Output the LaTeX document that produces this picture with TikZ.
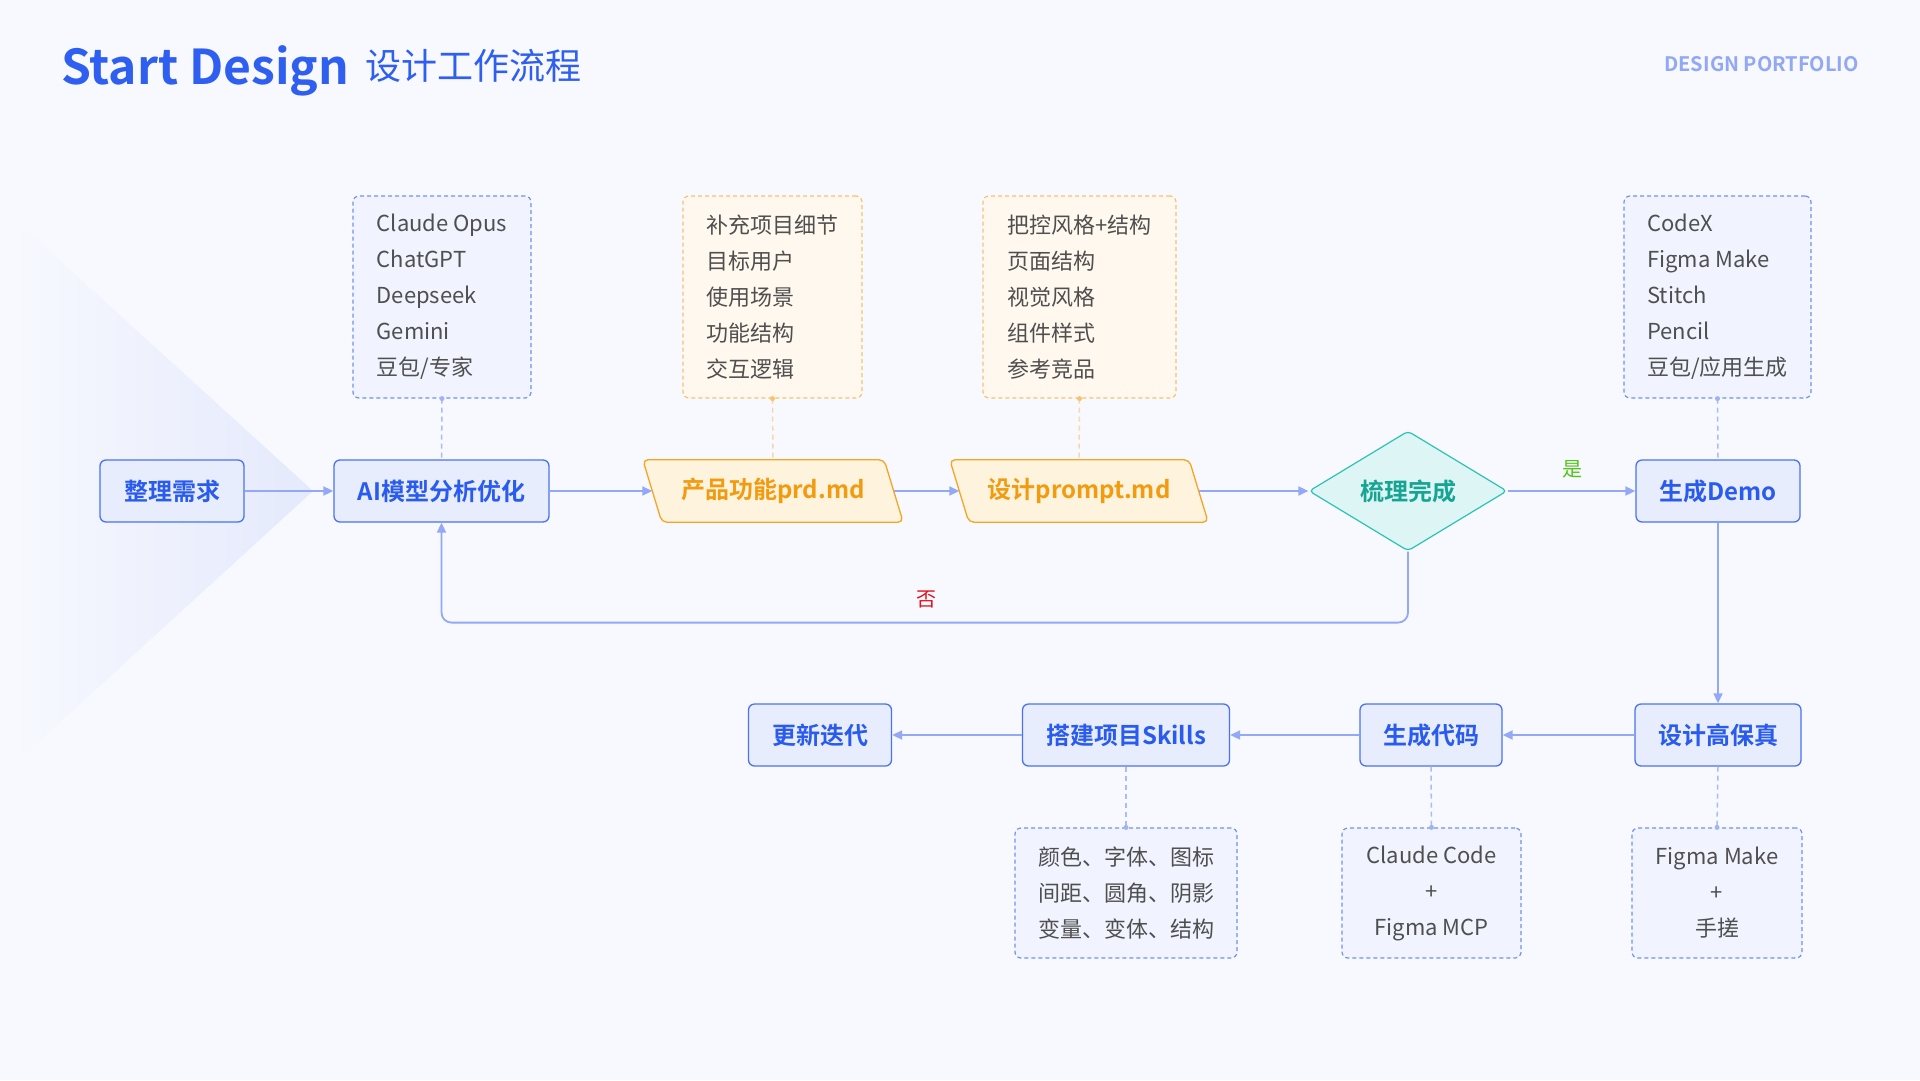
\documentclass[tikz,border=0pt]{standalone}
\usepackage{fontspec}
\setmainfont{Noto Sans CJK SC}[BoldFont={Noto Sans CJK SC Bold}]
\usetikzlibrary{arrows.meta,shapes.geometric,calc}

\definecolor{bgtop}{HTML}{F7F9FE}
\definecolor{tri}{HTML}{E4E9FC}
\definecolor{titleblue}{HTML}{2F5FF0}
\definecolor{portf}{HTML}{93A8F5}
\definecolor{nodefill}{HTML}{E7EDFD}
\definecolor{nodeline}{HTML}{4A72F2}
\definecolor{nodetext}{HTML}{2A5BEF}
\definecolor{arrowc}{HTML}{93A9F5}
\definecolor{pfill}{HTML}{FEF3DC}
\definecolor{pline}{HTML}{F5A524}
\definecolor{ptext}{HTML}{F29B0F}
\definecolor{dfill}{HTML}{DDF5F4}
\definecolor{dline}{HTML}{2CC3B5}
\definecolor{dtext}{HTML}{16A594}
\definecolor{notefill}{HTML}{F1F4FE}
\definecolor{noteline}{HTML}{7092F0}
\definecolor{onotefill}{HTML}{FFF8EE}
\definecolor{onoteline}{HTML}{F6C36F}
\definecolor{notetext}{HTML}{4F4F4F}
\definecolor{bdash}{HTML}{A9BCF7}
\definecolor{odash}{HTML}{F8D8A6}
\definecolor{yesc}{HTML}{52C41A}
\definecolor{noc}{HTML}{E0141E}

\pgfdeclarelayer{bglayer}
\pgfdeclarelayer{shapelayer}
\pgfsetlayers{bglayer,shapelayer,main}

\tikzset{
  proc/.style={draw=nodeline, line width=1.3pt, fill=nodefill, rounded corners=6pt,
    minimum height=62pt, inner sep=0pt, text=nodetext,
    font=\bfseries\fontsize{24pt}{28pt}\selectfont},
  ptxt/.style={minimum height=62pt, inner sep=0pt, text=ptext,
    font=\bfseries\fontsize{24pt}{28pt}\selectfont},
  pshape/.style={draw=pline, line width=1.3pt, fill=pfill, rounded corners=5pt},
  decide/.style={diamond, aspect=1.65, minimum width=198pt, minimum height=120pt,
    inner sep=0pt, draw=dline, line width=1.2pt, fill=dfill, rounded corners=4pt,
    text=dtext, font=\bfseries\fontsize{24pt}{28pt}\selectfont},
  bnote/.style={draw=noteline, dash pattern=on 4pt off 3pt, line width=1.2pt,
    fill=notefill, rounded corners=6pt, inner sep=0pt,
    text=notetext, font=\fontsize{22pt}{36pt}\selectfont},
  onote/.style={bnote, draw=onoteline, fill=onotefill},
  topnote/.style={minimum height=202pt, align=left},
  botnote/.style={minimum height=130pt, align=center},
  arr/.style={draw=arrowc, line width=1.8pt, -{Triangle[length=10pt,width=9pt]}},
  bconn/.style={draw=bdash, line width=1.5pt, dash pattern=on 5pt off 4pt},
  oconn/.style={draw=odash, line width=1.5pt, dash pattern=on 5pt off 4pt},
  lbl/.style={font=\fontsize{20pt}{24pt}\selectfont, inner sep=0pt}
}

\begin{document}
\begin{tikzpicture}[x=1pt,y=-1pt]
\useasboundingbox (0,0) rectangle (1920,1080);
\begin{pgfonlayer}{bglayer}
\fill[bgtop] (0,0) rectangle (1920,1080);
\shade[left color=bgtop, right color=tri] (12,217) -- (313,491) -- (12,766) -- cycle;
\end{pgfonlayer}

% title
\node[anchor=base west, inner sep=0pt, text=titleblue,
  font=\bfseries\fontsize{48pt}{56pt}\selectfont] (title) at (61,84) {Start Design};
\node[anchor=base west, inner sep=0pt, text=titleblue,
  font=\fontsize{36pt}{40pt}\selectfont] (subtitle) at (365,79) {设计工作流程};
\node[anchor=base east, inner sep=0pt, text=portf,
  font=\bfseries\fontsize{20pt}{24pt}\selectfont] (portfolio) at (1859,71) {DESIGN PORTFOLIO};

% main row
\node[proc, minimum width=144pt] (req) at (172,491) {整理需求};
\node[proc, minimum width=215pt] (ai) at (441.5,491) {AI模型分析优化};
\node[ptxt, minimum width=241pt] (prd) at (773,491) {产品功能prd.md};
\node[ptxt, minimum width=239pt] (prompt) at (1079,491) {设计prompt.md};
\node[decide] (chk) at (1408,491) {梳理完成};
\node[proc, minimum width=164pt] (demo) at (1718,491) {生成Demo};

\begin{pgfonlayer}{shapelayer}
\foreach \n in {prd,prompt}{
  \draw[pshape] ([xshift=-9.5pt]\n.north west) -- ([xshift=-9.5pt]\n.north east)
    -- ([xshift=9.5pt]\n.south east) -- ([xshift=9.5pt]\n.south west) -- cycle;
}
\end{pgfonlayer}

% second row
\node[proc, minimum width=166pt] (hifi) at (1718,735) {设计高保真};
\node[proc, minimum width=142pt] (code) at (1431,735) {生成代码};
\node[proc, minimum width=207pt] (skills) at (1126,735) {搭建项目Skills};
\node[proc, minimum width=143pt] (iter) at (820,735) {更新迭代};

% notes
\node[bnote, topnote, minimum width=178pt] (nA) at (442,297)
  {Claude Opus\\ChatGPT\\Deepseek\\Gemini\\豆包/专家};
\node[onote, topnote, minimum width=179pt] (nB) at (772.5,297)
  {补充项目细节\\目标用户\\使用场景\\功能结构\\交互逻辑};
\node[onote, topnote, minimum width=193pt] (nC) at (1079.5,297)
  {把控风格+结构\\页面结构\\视觉风格\\组件样式\\参考竞品};
\node[bnote, topnote, minimum width=187pt] (nD) at (1717.5,297)
  {CodeX\\Figma Make\\Stitch\\Pencil\\豆包/应用生成};
\node[bnote, botnote, minimum width=222pt] (nE) at (1126,893)
  {颜色、字体、图标\\间距、圆角、阴影\\变量、变体、结构};
\node[bnote, botnote, minimum width=179pt] (nF) at (1431.5,893)
  {Claude Code\\+\\Figma MCP};
\node[bnote, botnote, minimum width=170pt] (nG) at (1717,893)
  {Figma Make\\+\\手搓};

% note connectors
\draw[bconn] (nA.south) -- (ai.north);
\draw[oconn] (nB.south) -- (prd.north);
\draw[oconn] (nC.south) -- (prompt.north);
\draw[bconn] (nD.south) -- (demo.north);
\draw[bconn] (skills.south) -- (nE.north);
\draw[bconn] (code.south) -- (nF.north);
\draw[bconn] (hifi.south) -- (nG.north);
\fill[bdash!80!noteline] (nA.south) circle (2.5pt);
\fill[onoteline] (nB.south) circle (2.5pt);
\fill[onoteline] (nC.south) circle (2.5pt);
\fill[bdash!80!noteline] (nD.south) circle (2.5pt);
\fill[bdash!80!noteline] (nE.north) circle (2.5pt);
\fill[bdash!80!noteline] (nF.north) circle (2.5pt);
\fill[bdash!80!noteline] (nG.north) circle (2.5pt);

% flow arrows
\draw[arr] (req) -- (ai);
\draw[arr] (ai) -- (prd);
\draw[arr] (prd) -- (prompt);
\draw[arr] (prompt) -- (chk);
\draw[arr] (chk) -- (demo);
\draw[arr] (demo) -- (hifi);
\draw[arr] (hifi) -- (code);
\draw[arr] (code) -- (skills);
\draw[arr] (skills) -- (iter);
\draw[arr, rounded corners=10pt] (chk.south) -- ++(0,71) -| (ai.south);

% labels
\node[lbl, text=yesc] (yes) at (1572,469) {是};
\node[lbl, text=noc] (no) at (926,599) {否};
\end{tikzpicture}
\end{document}
